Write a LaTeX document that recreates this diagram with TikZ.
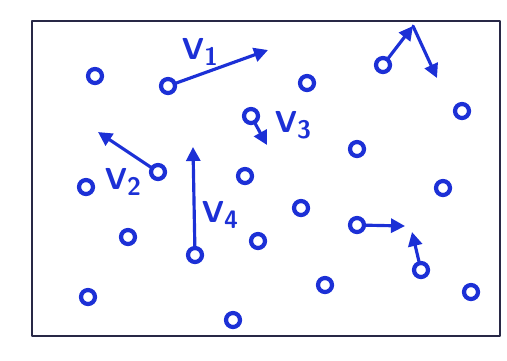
\documentclass[tikz,border=0pt]{standalone}
\usepackage{tikz}
\usetikzlibrary{arrows.meta}
\usetikzlibrary{positioning}
\definecolor{penBlue}{RGB}{28,48,214}
\definecolor{boxInk}{RGB}{40,40,70}
\newcommand{\vsub}[1]{V\raisebox{-0.45ex}{\Large #1}}
\tikzset{
	>={Triangle[length=2.8mm, width=2.8mm]},
	particle/.style={circle, draw=penBlue, line width=2.4pt, minimum size=0.28cm, inner sep=0pt},
	velocity/.style={penBlue, line width=1.8pt, ->},
	vlabel/.style={text=penBlue, font=\sffamily\bfseries\LARGE},
	box/.style={boxInk, line width=1.2pt},
}

\begin{document}
\begin{tikzpicture}[x=0.02cm, y=-0.02cm, line cap=round, line join=round]
		
		\useasboundingbox (0,0) rectangle (507,360);
		
		% ---- Container ----
		\draw[box] (32,21) rectangle (500,336);
		
		% ---- Particles ----
		\node[particle] (p1)  at (95,76)   {};
		\node[particle] (p2)  at (168,86)  {};
		\node[particle] (p3)  at (307,83)  {};
		\node[particle] (p4)  at (383,65)  {};
		\node[particle] (p5)  at (462,111) {};
		\node[particle] (p6)  at (251,116) {};
		\node[particle] (p7)  at (357,149) {};
		\node[particle] (p8)  at (158,172) {};
		\node[particle] (p9)  at (86,187)  {};
		\node[particle] (p10) at (245,176) {};
		\node[particle] (p11) at (443,188) {};
		\node[particle] (p12) at (195,255) {};
		\node[particle] (p13) at (128,237) {};
		\node[particle] (p14) at (258,241) {};
		\node[particle] (p15) at (301,208) {};
		\node[particle] (p16) at (357,225) {};
		\node[particle] (p17) at (421,270) {};
		\node[particle] (p18) at (325,285) {};
		\node[particle] (p19) at (88,297)  {};
		\node[particle] (p20) at (233,320) {};
		\node[particle] (p21) at (471,292) {};
		
		% ---- Arrow ends ----
		\coordinate (v1) at (268,50);
		\coordinate (v2) at (98,132);
		\coordinate (v3) at (267,145);
		\coordinate (v4) at (193,147);
		\coordinate (wall) at (413,26);
		\coordinate (bounce) at (437,78);
		\coordinate (hitA) at (405,226);
		\coordinate (hitB) at (412,232);
		
		% ---- Velocities ----
		\draw[velocity] (p2) -- (v1);
		\draw[velocity] (p8) -- (v2);
		\draw[velocity] (p6) -- (v3);
		\draw[velocity] (p12) -- (v4);
		\draw[velocity] (p4) -- (wall);
		\draw[velocity] (wall) -- (bounce);
		\draw[velocity] (p16) -- (hitA);
		\draw[velocity] (p17) -- (hitB);
		
		% ---- Labels ----
		\node[vlabel] (l1) at (200,52)  {\vsub{1}};
		\node[vlabel] (l2) at (123,182) {\vsub{2}};
		\node[vlabel] (l3) at (293,125) {\vsub{3}};
		\node[vlabel] (l4) at (220,215) {\vsub{4}};
		
	\end{tikzpicture}
\end{document}
